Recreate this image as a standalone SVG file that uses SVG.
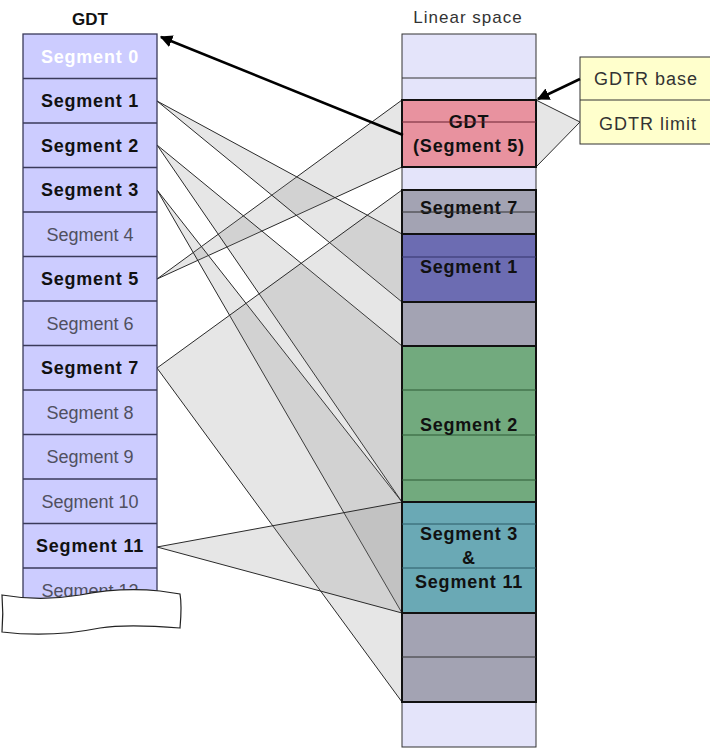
<svg xmlns="http://www.w3.org/2000/svg" width="710" height="748" viewBox="0 0 710 748">
<defs>
<style>
.lbl{font-family:"Liberation Sans",Arial,sans-serif;font-size:18px;text-anchor:middle}
.b{font-weight:bold;fill:#111;letter-spacing:0.8px}
.n{fill:#505060}
.w{font-weight:bold;fill:#fff;letter-spacing:0.8px}
.row{stroke:#3a3a5a;stroke-width:1.3}
.fan{fill:#808080;fill-opacity:0.2;stroke:#2a2a2a;stroke-width:1}
.box{stroke:#111;stroke-width:2}
.ttl{font-family:"Liberation Sans",Arial,sans-serif;font-size:17px;text-anchor:middle}
.gd{font-family:"Liberation Sans",Arial,sans-serif;font-size:18px;text-anchor:middle;fill:#333;letter-spacing:1px}
</style>
<marker id="ah" viewBox="0 0 10 10" refX="9" refY="5" markerWidth="5" markerHeight="5" orient="auto" markerUnits="strokeWidth">
<path d="M0,0 L10,5 L0,10 Z" fill="#000"/>
</marker>
</defs>
<rect width="710" height="748" fill="#fff"/>

<g id="connectors">
<polygon class="fan" points="580,122 536,100 536,167"/>
<polygon class="fan" points="157,279 402,100 402,167"/>
<polygon class="fan" points="157,101 402,234 402,302"/>
<polygon class="fan" points="157,145 402,346 402,502"/>
<polygon class="fan" points="157,190 402,502 402,613"/>
<polygon class="fan" points="157,368 402,190 402,702"/>
<polygon class="fan" points="157,547 402,502 402,613"/>
</g>

<g id="gdt-table">
<text class="ttl" x="90" y="25" font-weight="bold" fill="#111">GDT</text>
<rect x="23" y="34" width="134" height="575" fill="#ccccff" stroke="#3a3a5a" stroke-width="1.3"/>
<g class="row">
<line x1="23" y1="78.5" x2="157" y2="78.5"/>
<line x1="23" y1="123" x2="157" y2="123"/>
<line x1="23" y1="167.5" x2="157" y2="167.5"/>
<line x1="23" y1="212" x2="157" y2="212"/>
<line x1="23" y1="256.5" x2="157" y2="256.5"/>
<line x1="23" y1="301" x2="157" y2="301"/>
<line x1="23" y1="345.5" x2="157" y2="345.5"/>
<line x1="23" y1="390" x2="157" y2="390"/>
<line x1="23" y1="434.5" x2="157" y2="434.5"/>
<line x1="23" y1="479" x2="157" y2="479"/>
<line x1="23" y1="523.5" x2="157" y2="523.5"/>
<line x1="23" y1="568" x2="157" y2="568"/>
</g>
<g id="seg0"><text class="lbl w" x="90" y="62.5">Segment 0</text></g>
<g id="seg1"><text class="lbl b" x="90" y="107">Segment 1</text></g>
<g id="seg2"><text class="lbl b" x="90" y="151.5">Segment 2</text></g>
<g id="seg3"><text class="lbl b" x="90" y="196">Segment 3</text></g>
<g id="seg4"><text class="lbl n" x="90" y="240.5">Segment 4</text></g>
<g id="seg5"><text class="lbl b" x="90" y="285">Segment 5</text></g>
<g id="seg6"><text class="lbl n" x="90" y="329.5">Segment 6</text></g>
<g id="seg7"><text class="lbl b" x="90" y="374">Segment 7</text></g>
<g id="seg8"><text class="lbl n" x="90" y="418.5">Segment 8</text></g>
<g id="seg9"><text class="lbl n" x="90" y="463">Segment 9</text></g>
<g id="seg10"><text class="lbl n" x="90" y="507.5">Segment 10</text></g>
<g id="seg11"><text class="lbl b" x="90" y="552">Segment 11</text></g>
<g id="seg12"><text class="lbl n" x="90" y="596.5">Segment 12</text></g>
</g>

<g id="torn-paper">
<path d="M2,595 C25,599 50,600 80,595 C105,590 130,588 160,591 L180,594 C182,605 181,617 180,628 C155,626 125,624 100,628 C70,634 35,636 2,632 C3,620 3,607 2,595 Z" fill="#fff" stroke="#222" stroke-width="1.2"/>
</g>

<g id="linear-space">
<text class="ttl" x="468" y="23" fill="#333" letter-spacing="1">Linear space</text>
<rect x="402" y="34" width="134" height="713" fill="#e4e4fa" stroke="#333" stroke-width="1"/>
<line x1="402" y1="78" x2="536" y2="78" stroke="#333" stroke-width="1"/>
</g>

<g id="gdt-seg5">
<rect class="box" x="402" y="100" width="134" height="67" fill="#e8929f"/>
<text class="lbl b" x="469" y="128">GDT</text>
<text class="lbl b" x="469" y="152">(Segment 5)</text>
<line x1="402" y1="122" x2="536" y2="122" stroke="#6a2030" stroke-width="1"/>
</g>

<g id="lin-seg7">
<rect class="box" x="402" y="190" width="134" height="44" fill="#a3a3b3"/>
<text class="lbl b" x="469" y="214">Segment 7</text>
<line x1="402" y1="212" x2="536" y2="212" stroke="#333" stroke-width="1"/>
</g>

<g id="lin-seg1">
<rect class="box" x="402" y="234" width="134" height="68" fill="#6c6cb2"/>
<line x1="402" y1="257" x2="536" y2="257" stroke="#33336a" stroke-width="1"/>
<text class="lbl b" x="469" y="273">Segment 1</text>
</g>

<g id="lin-gray1">
<rect class="box" x="402" y="302" width="134" height="44" fill="#a3a3b3"/>
</g>

<g id="lin-seg2">
<rect class="box" x="402" y="346" width="134" height="156" fill="#72aa7e"/>
<g stroke="#2d5a35" stroke-width="1">
<line x1="402" y1="390" x2="536" y2="390"/>
<line x1="402" y1="435" x2="536" y2="435"/>
<line x1="402" y1="480" x2="536" y2="480"/>
</g>
<text class="lbl b" x="469" y="431">Segment 2</text>
</g>

<g id="lin-seg3-11">
<rect class="box" x="402" y="502" width="134" height="111" fill="#6aa9b5"/>
<g stroke="#2a5a66" stroke-width="1">
<line x1="402" y1="524" x2="536" y2="524"/>
<line x1="402" y1="568" x2="536" y2="568"/>
</g>
<text class="lbl b" x="469" y="540">Segment 3</text>
<text class="lbl b" x="469" y="564">&amp;</text>
<text class="lbl b" x="469" y="588">Segment 11</text>
</g>

<g id="lin-gray2">
<rect class="box" x="402" y="613" width="134" height="89" fill="#a3a3b3"/>
<line x1="402" y1="657" x2="536" y2="657" stroke="#333" stroke-width="1"/>
</g>

<g id="gdtr">
<rect x="580" y="57" width="140" height="87" fill="#ffffcc" stroke="#333" stroke-width="1"/>
<line x1="580" y1="100" x2="720" y2="100" stroke="#333" stroke-width="1"/>
<text class="gd" x="646" y="85">GDTR base</text>
<text class="gd" x="648" y="130">GDTR limit</text>
</g>

<g id="arrows">
<line x1="580" y1="79" x2="538" y2="99" stroke="#000" stroke-width="2.5" marker-end="url(#ah)"/>
<line x1="403" y1="135" x2="161" y2="37" stroke="#000" stroke-width="2.5" marker-end="url(#ah)"/>
</g>
</svg>
